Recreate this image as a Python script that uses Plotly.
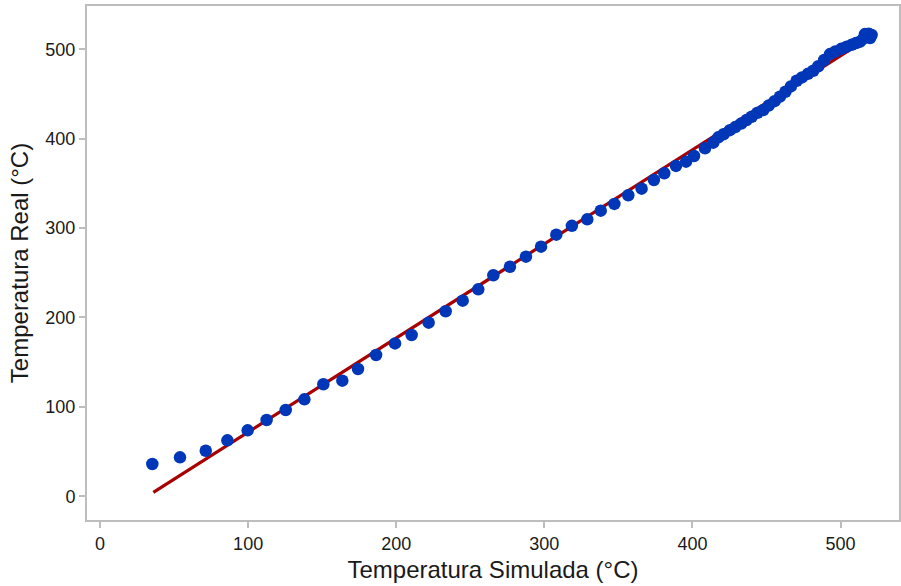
import plotly.graph_objects as go

# Blue measured points (Temperatura Simulada, Temperatura Real)
sim_temp = [35.3, 54.0, 71.4, 86.0, 99.7, 112.5, 125.4, 138.0, 150.8, 163.6,
            174.2, 186.4, 199.2, 210.4, 221.9, 233.4, 244.9, 255.4, 265.6, 276.8,
            287.6, 297.8, 308.1, 318.6, 329.0, 338.1, 347.3, 356.7, 365.7, 374.0,
            381.0, 388.9, 395.7, 401.1, 408.5, 414.1, 417.5, 421.0, 425.3, 429.0,
            433.0, 436.6, 440.0, 444.0, 447.9, 451.5, 455.5, 459.1, 462.8, 466.5,
            470.4, 474.0, 478.0, 481.6, 485.0, 489.0, 492.9, 496.5, 500.5, 504.2,
            507.5, 510.5, 513.2, 515.5, 517.0, 519.0, 521.0, 520.0, 516.5]
real_temp = [36.1, 43.6, 51.0, 62.6, 73.8, 85.3, 96.5, 108.5, 125.3, 129.3,
             142.4, 158.0, 171.0, 180.4, 194.2, 207.0, 218.8, 231.5, 247.2, 256.8,
             268.0, 279.2, 292.6, 302.5, 309.8, 319.5, 327.0, 336.7, 344.1, 353.8,
             361.3, 369.5, 374.3, 380.6, 389.3, 395.5, 401.5, 405.0, 409.5, 413.0,
             417.0, 420.9, 424.5, 429.0, 432.1, 437.0, 442.0, 447.0, 452.5, 458.5,
             464.8, 468.5, 472.5, 476.0, 481.0, 488.0, 494.6, 497.5, 500.5, 502.9,
             505.0, 507.0, 508.5, 512.0, 515.5, 517.5, 516.0, 512.5, 517.0]

# Red fitted line endpoints
fit_x = [36.0, 518.0]
fit_y = [4.5, 511.6]

x_ticks = [0, 100, 200, 300, 400, 500]
y_ticks = [0, 100, 200, 300, 400, 500]

FONT = "Liberation Sans, Arial"

fig = go.Figure()
fig.add_trace(go.Scatter(x=fit_x, y=fit_y, mode="lines",
                         line=dict(color="#A80000", width=3.2), showlegend=False))
fig.add_trace(go.Scatter(x=sim_temp, y=real_temp, mode="markers",
                         marker=dict(color="#0036B8", size=12.5, line=dict(width=0)),
                         showlegend=False))

axis_common = dict(showgrid=False, zeroline=False, showline=True, mirror=True,
                   linecolor="#BDBDBD", linewidth=2, ticks="outside", ticklen=6,
                   tickcolor="#BDBDBD", tickwidth=1.5, automargin=False,
                   tickfont=dict(family=FONT, size=18, color="#1a1a1a"))

fig.update_layout(
    width=901, height=586,
    margin=dict(l=87, r=2, t=6, b=66),
    paper_bgcolor="white", plot_bgcolor="white",
    xaxis=dict(range=[-8.8, 539.5], tickvals=x_ticks,
               title=dict(text="Temperatura Simulada (°C)", standoff=9,
                          font=dict(family=FONT, size=24, color="#1a1a1a")),
               **axis_common),
    yaxis=dict(range=[-26.5, 548.4], tickvals=y_ticks,
               title=dict(text="Temperatura Real (°C)", standoff=10,
                          font=dict(family=FONT, size=24, color="#1a1a1a")),
               **axis_common),
)

fig.write_html("out.html",
               config={"displayModeBar": False},
               post_script="document.body.style.margin='0';document.body.style.overflow='hidden';")
